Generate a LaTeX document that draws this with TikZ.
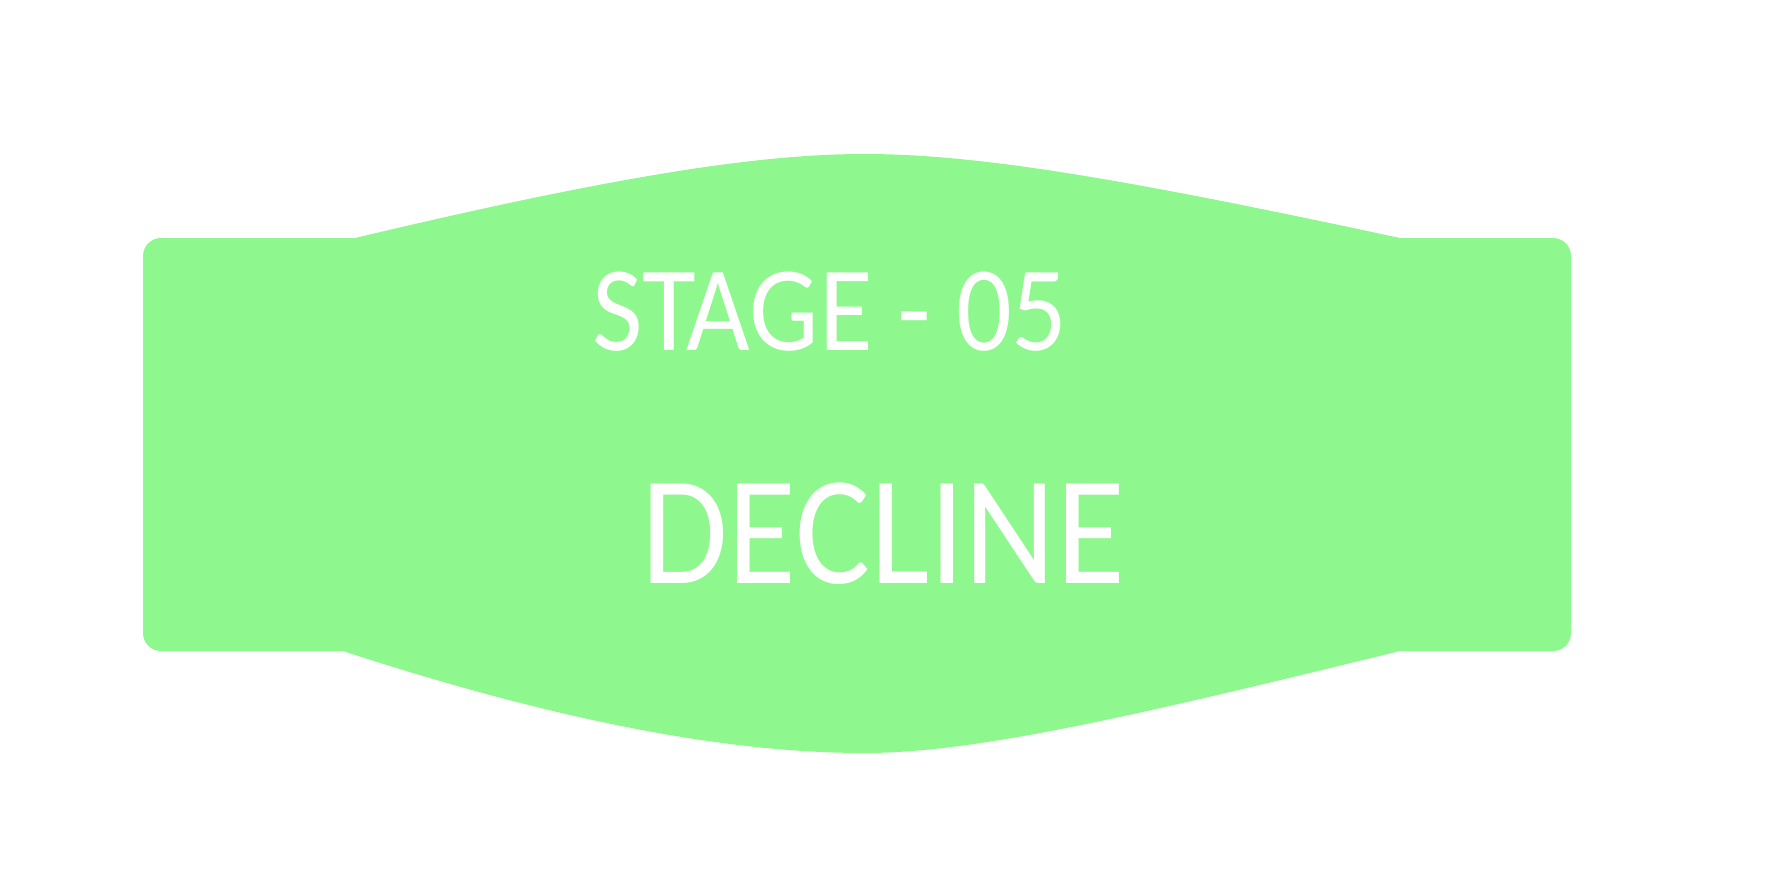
\documentclass[tikz,border=0pt]{standalone}
\usepackage{fontspec}
\setmainfont{Carlito}
\usetikzlibrary{positioning}
\definecolor{stagegreen}{RGB}{142,248,142}

\begin{document}
\begin{tikzpicture}[x=1pt, y=-1pt,
    banner/.style={fill=stagegreen, draw=none},
    labeltext/.style={text=white, inner sep=0pt, anchor=base}]
    \useasboundingbox (0,0) rectangle (1792,876);
    % body of the banner
    \fill[banner, rounded corners=18pt] (143,238) rectangle (1571,651);
    % bulges above and below
    \fill[banner] (355,238) .. controls (620,175) and (760,154) .. (865,154)
        .. controls (980,154) and (1130,180) .. (1400,238) -- cycle;
    \fill[banner] (343,651) .. controls (600,735) and (760,753) .. (865,753)
        .. controls (980,753) and (1150,712) .. (1400,651) -- cycle;
    % texts
    \node[labeltext, font=\fontsize{110}{120}\selectfont] (stage) at (830,350) {\scalebox{1}[1.1]{STAGE - 05}};
    \node[labeltext, font=\fontsize{141}{150}\selectfont] (title) at (883,583) {\scalebox{1}[1.1]{DECLINE}};
\end{tikzpicture}
\end{document}
